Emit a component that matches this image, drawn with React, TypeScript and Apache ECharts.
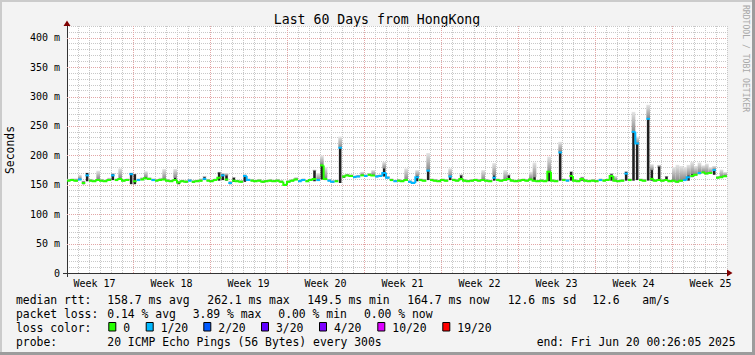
import React, { useEffect, useRef } from "react";
import * as echarts from "echarts";

// ---------- data ----------
const TITLE = "Last 60 Days from HongKong";
const Y_UNIT = "Seconds";
const WATERMARK = "RRDTOOL / TOBI OETIKER";
const TOTAL_DAYS = 60;
const STEP_DAYS = 1 / 3;
const weekLabels = ["Week 17", "Week 18", "Week 19", "Week 20", "Week 21", "Week 22", "Week 23", "Week 24", "Week 25"];
const weekLabelDays = [2.5, 9.5, 16.5, 23.5, 30.5, 37.5, 44.5, 51.5, 58.5];
const majorYValues = [50, 100, 150, 200, 250, 300, 350, 400];

// median rtt (ms) per 8h step
const medianRtt = [
  157, 158, 157, 159, 153, 166, 157, 156, 158, 157, 156, 158, 166, 158, 160, 157, 158, 168, 156, 158,
  159, 161, 160, 158, 157, 158, 159, 157, 156, 158, 154, 156, 155, 157, 155, 156, 157, 160, 157, 156,
  158, 162, 166, 159, 153, 157, 156, 155, 165, 158, 157, 156, 157, 155, 156, 157, 156, 157, 155, 149.5,
  155, 157, 159, 156, 158, 156, 158, 160, 158, 183, 160, 157, 155, 156, 213, 164, 166, 165, 163, 164,
  166, 165, 167, 166, 164, 165, 170, 162, 158, 156, 157, 156, 158, 155, 153, 163, 158, 157, 174, 158,
  157, 156, 158, 157, 164, 158, 157, 160, 157, 156, 157, 158, 157, 158, 157, 156, 162, 158, 157, 158,
  160, 157, 156, 157, 158, 157, 159, 157, 156, 157, 156, 172, 157, 156, 205, 158, 157, 165, 157, 156,
  160, 157, 156, 157, 156, 158, 157, 158, 165, 157, 156, 157, 169, 158, 240, 220, 158, 157, 262.1, 160,
  157, 158, 157, 158, 156, 157, 155, 157, 158, 163, 165, 167, 170, 171, 169, 170, 175, 162, 163, 164.7,
];
// lost pings (of 20) per step
const lostPings = [
  0, 0, 0, 1, 0, 1, 0, 0, 0, 0, 0, 0, 1, 0, 0, 0, 0, 1, 0, 1,
  0, 0, 0, 1, 0, 0, 0, 0, 0, 0, 0, 0, 0, 1, 0, 0, 0, 1, 0, 0,
  0, 0, 1, 0, 1, 0, 0, 0, 1, 1, 0, 0, 0, 0, 0, 0, 0, 0, 0, 0,
  0, 0, 0, 1, 1, 0, 0, 0, 1, 0, 0, 1, 1, 0, 1, 0, 0, 0, 1, 1,
  0, 1, 0, 0, 1, 1, 1, 1, 0, 1, 0, 0, 0, 1, 1, 1, 0, 0, 1, 0,
  0, 0, 0, 0, 1, 0, 0, 0, 0, 0, 0, 0, 0, 0, 0, 0, 1, 0, 0, 0,
  0, 0, 0, 0, 0, 0, 0, 0, 0, 0, 0, 0, 0, 0, 1, 0, 1, 0, 0, 0,
  0, 0, 0, 0, 0, 1, 0, 0, 0, 0, 0, 0, 1, 0, 1, 1, 0, 0, 1, 0,
  0, 0, 0, 0, 0, 0, 0, 0, 1, 1, 0, 0, 1, 0, 0, 0, 1, 0, 0, 0,
];
// dark smoke below / above median, light smoke above median (ms)
const darkBelow = [
  1, 1, 1, 1, 2, 10, 1, 1, 1, 1, 1, 1, 8, 1, 1, 1, 1, 17, 5, 1,
  1, 1, 1, 1, 1, 1, 1, 1, 1, 1, 3, 1, 1, 1, 1, 1, 1, 2, 1, 1,
  1, 5, 8, 2, 2, 2, 1, 1, 10, 1, 1, 1, 1, 1, 1, 1, 1, 1, 1, 1,
  1, 1, 1, 1, 1, 1, 1, 4, 1, 24, 2, 1, 1, 1, 60, 2, 1, 1, 1, 1,
  1, 1, 1, 1, 1, 1, 6, 1, 1, 1, 1, 1, 1, 1, 1, 7, 1, 1, 16, 1,
  1, 1, 1, 1, 6, 1, 1, 2, 1, 1, 1, 1, 1, 1, 1, 1, 5, 1, 1, 1,
  2, 1, 1, 1, 1, 1, 1, 1, 1, 1, 1, 16, 1, 1, 48, 1, 1, 8, 1, 1,
  3, 1, 1, 1, 1, 1, 1, 1, 8, 1, 1, 1, 12, 1, 83, 62, 1, 1, 105, 3,
  1, 1, 1, 1, 1, 1, 1, 1, 1, 6, 2, 1, 2, 1, 1, 1, 8, 1, 1, 1,
];
const darkAbove = [
  1, 1, 1, 1, 2, 4, 1, 1, 2, 1, 1, 1, 2, 1, 2, 1, 1, 2, 12, 1,
  1, 2, 1, 1, 1, 1, 1, 1, 1, 4, 1, 1, 1, 1, 1, 1, 1, 3, 1, 1,
  1, 9, 2, 7, 2, 5, 1, 1, 1, 1, 1, 1, 1, 1, 1, 1, 1, 1, 1, 1,
  1, 1, 1, 1, 1, 1, 1, 14, 1, 1, 2, 1, 1, 1, 0, 1, 1, 1, 1, 1,
  1, 1, 1, 1, 1, 1, 8, 1, 1, 1, 1, 1, 1, 1, 1, 2, 1, 1, 1, 1,
  1, 1, 1, 1, 1, 1, 1, 6, 1, 1, 1, 1, 1, 1, 1, 1, 4, 1, 1, 1,
  6, 1, 1, 1, 1, 1, 1, 6, 1, 1, 1, 0, 1, 1, 1, 1, 1, 7, 1, 1,
  2, 1, 1, 1, 1, 1, 1, 1, 3, 1, 1, 1, 3, 1, 0, 0, 1, 1, 1, 15,
  1, 23, 1, 6, 1, 1, 1, 1, 1, 3, 3, 1, 1, 1, 1, 1, 1, 1, 1, 1,
];
const smokeAbove = [
  3, 3, 4, 8, 4, 5, 3, 3, 16, 3, 3, 4, 4, 3, 18, 3, 3, 3, 13, 3,
  4, 12, 3, 3, 3, 4, 18, 3, 3, 19, 3, 3, 3, 3, 3, 3, 4, 5, 3, 3,
  3, 10, 4, 11, 3, 6, 3, 3, 3, 3, 3, 3, 3, 3, 3, 3, 3, 3, 3, 3,
  3, 3, 4, 3, 3, 3, 3, 16, 12, 17, 20, 3, 3, 3, 19, 3, 3, 3, 3, 3,
  6, 3, 3, 9, 3, 3, 19, 3, 3, 3, 3, 3, 20, 3, 3, 12, 3, 3, 30, 3,
  3, 3, 3, 3, 14, 3, 3, 8, 3, 3, 3, 3, 3, 17, 3, 3, 25, 3, 3, 17,
  8, 3, 3, 3, 3, 3, 13, 31, 3, 3, 3, 26, 3, 3, 18, 3, 3, 8, 3, 3,
  4, 3, 3, 3, 3, 3, 3, 3, 5, 8, 3, 3, 4, 3, 34, 12, 3, 3, 24, 25,
  3, 26, 3, 7, 3, 23, 29, 25, 22, 21, 24, 15, 18, 12, 17, 10, 7, 3, 13, 7,
];

const lossThresholds = [0, 1, 2, 3, 4, 10, 19];
const lossColors = ["#26ff00", "#00b8ff", "#0059ff", "#5e00ff", "#7e00ff", "#dd00ff", "#ff0000"];
const lossLabels = ["0", "1/20", "2/20", "3/20", "4/20", "10/20", "19/20"];

const rttStats = ["158.7 ms avg", "262.1 ms max", "149.5 ms min", "164.7 ms now", "12.6 ms sd", "12.6", "am/s"];
const lossStats = ["0.14 % avg", "3.89 % max", "0.00 % min", "0.00 % now"];
const probeText = "20 ICMP Echo Pings (56 Bytes) every 300s";
const endText = "end: Fri Jun 20 00:26:05 2025";

// ---------- layout / style ----------
const MONO = '"DejaVu Sans Mono", monospace';
const GRID_L = 67, GRID_T = 26, GRID_W = 660, GRID_H = 247;
const MINOR = "#c8c8c8";
const MAJOR = "#e2a6a6";
const NONE = "rgba(0,0,0,0)";

function lossColorIndex(l: number) {
  let c = 0;
  for (let k = 0; k < lossThresholds.length; k++) if (l >= lossThresholds[k]) c = k;
  return c;
}

const rows = medianRtt.map((m, i) => [
  i * STEP_DAYS,
  m,
  lostPings[i],
  m - darkBelow[i],
  m + darkAbove[i],
  m + smokeAbove[i],
  i > 0 ? medianRtt[i - 1] : m,
  i > 0 ? lostPings[i - 1] : lostPings[i],
]);

const xGridColors: string[] = [];
for (let k = 0; k < 14; k++) xGridColors.push(k % 2 === 1 ? NONE : k === 12 ? MAJOR : MINOR);

function buildOption() {
  const legendRowY = [299.5, 313.5, 327.5, 341.5];
  const legendFont = { fontFamily: MONO, fontSize: 11.4, fill: "#000" };
  const g: any[] = [];
  const txt = (text: string, x: number, y: number) =>
    g.push({ type: "text", x, y, silent: true, style: { text, ...legendFont, verticalAlign: "middle", align: "left" } });

  // frame shading
  g.push({ type: "rect", shape: { x: 0, y: 0, width: 755, height: 2 }, style: { fill: "#cbcbcb" } });
  g.push({ type: "rect", shape: { x: 0, y: 0, width: 2, height: 355 }, style: { fill: "#cbcbcb" } });
  g.push({ type: "rect", shape: { x: 0, y: 352, width: 755, height: 3 }, style: { fill: "#9c9c9c" } });
  g.push({ type: "rect", shape: { x: 752, y: 0, width: 3, height: 355 }, style: { fill: "#9c9c9c" } });

  // title
  g.push({ type: "text", x: 377, y: 19.5, style: { text: TITLE, fontFamily: MONO, fontSize: 13.2, fill: "#000", align: "center", verticalAlign: "middle" } });
  // unit
  g.push({ type: "text", x: 10, y: 150, rotation: Math.PI / 2, style: { text: Y_UNIT, fontFamily: MONO, fontSize: 11.4, fill: "#000", align: "center", verticalAlign: "middle" } });
  // watermark
  g.push({ type: "text", x: 745.5, y: 5, rotation: -Math.PI / 2, style: { text: WATERMARK, fontFamily: MONO, fontSize: 8.1, fill: "#a8a8a8", align: "left", verticalAlign: "middle" } });

  // axis arrows and stubs
  g.push({ type: "polygon", shape: { points: [[63.5, 26], [70.5, 26], [67, 20.5]] }, style: { fill: "#7f0000" }, z: 10 });
  g.push({ type: "polygon", shape: { points: [[727, 269.5], [727, 276.5], [732.5, 273]] }, style: { fill: "#7f0000" }, z: 10 });
  g.push({ type: "line", shape: { x1: 67.5, y1: 273, x2: 67.5, y2: 277 }, style: { stroke: "#333", lineWidth: 1 } });
  g.push({ type: "line", shape: { x1: 63, y1: 273.5, x2: 67, y2: 273.5 }, style: { stroke: "#333", lineWidth: 1 } });

  // legend rows
  txt("median rtt:", 16, legendRowY[0]);
  const rttX = [107.3, 207.3, 307.3, 407.3, 507.7, 592.3, 642.3];
  rttStats.forEach((s, k) => txt(s, rttX[k], legendRowY[0]));
  txt("packet loss:", 16, legendRowY[1]);
  const lossX = [107.3, 192.7, 278.3, 364];
  lossStats.forEach((s, k) => txt(s, lossX[k], legendRowY[1]));
  txt("loss color:", 16, legendRowY[2]);
  const boxX = [108.3, 145.7, 203.3, 261, 319, 377.3, 442.3];
  lossLabels.forEach((s, k) => {
    g.push({ type: "rect", shape: { x: boxX[k] + 0.5, y: 322.5, width: 7, height: 8.5 }, style: { fill: lossColors[k], stroke: "#000", lineWidth: 1 } });
    txt(s, boxX[k] + 15, legendRowY[2]);
  });
  txt("probe:", 16, legendRowY[3]);
  txt(probeText, 107.3, legendRowY[3]);
  txt(endText, 536.7, legendRowY[3]);

  const smokeGradient = new echarts.graphic.LinearGradient(0, 0, 0, 1, [
    { offset: 0, color: "#e6e6e6" },
    { offset: 1, color: "#8a8a8a" },
  ]);

  return {
    animation: false,
    backgroundColor: "#f3f3f3",
    grid: { left: GRID_L, top: GRID_T, width: GRID_W, height: GRID_H, show: true, backgroundColor: "#ffffff", borderWidth: 0 },
    xAxis: {
      type: "value",
      min: 0,
      max: TOTAL_DAYS,
      interval: 0.5,
      axisLine: { show: true, lineStyle: { color: "#333", width: 1 } },
      axisTick: { show: false },
      axisLabel: {
        show: true,
        margin: 5,
        fontFamily: MONO,
        fontSize: 10,
        color: "#000",
        formatter: (v: number) => {
          const k = weekLabelDays.findIndex((d) => Math.abs(d - v) < 1e-6);
          return k >= 0 ? weekLabels[k] : "";
        },
      },
      splitLine: { show: true, lineStyle: { color: xGridColors, width: 1, type: [1, 1] } },
    },
    yAxis: {
      type: "value",
      min: 0,
      max: 420,
      interval: 10,
      axisLine: { show: true, lineStyle: { color: "#333", width: 1 } },
      axisTick: { show: false },
      axisLabel: {
        margin: 7,
        fontFamily: MONO,
        fontSize: 10,
        color: "#000",
        formatter: (v: number) => {
          const r = Math.round(v);
          if (r % 50 !== 0) return "";
          return r === 0 ? "0" : `${r} m`;
        },
      },
      splitLine: { show: true, lineStyle: { color: [NONE, MINOR, MINOR, MINOR, MINOR], width: 1, type: [1, 1] } },
    },
    series: [
      {
        type: "custom",
        name: "major-grid",
        coordinateSystem: "cartesian2d",
        silent: true,
        clip: true,
        z: 1,
        data: majorYValues.map((v) => [0, v]),
        encode: { x: 0, y: 1 },
        renderItem: (params: any, api: any) => {
          const a = api.coord([0, api.value(1)]);
          const b = api.coord([TOTAL_DAYS, api.value(1)]);
          const y = Math.round(a[1]) + 0.5;
          return { type: "line", shape: { x1: a[0], y1: y, x2: b[0], y2: y }, style: { stroke: MAJOR, lineWidth: 1, lineDash: [1, 1] } };
        },
      },
      {
        type: "custom",
        name: "smoke",
        coordinateSystem: "cartesian2d",
        silent: true,
        clip: true,
        z: 2,
        data: rows,
        encode: { x: 0, y: 1 },
        renderItem: (params: any, api: any) => {
          const x0 = api.value(0);
          const lo = api.value(3), dt = api.value(4), hi = api.value(5);
          const pLo = api.coord([x0, lo]);
          const pDt = api.coord([x0, dt]);
          const pHi = api.coord([x0 + STEP_DAYS, hi]);
          const w = pHi[0] - pLo[0];
          const children: any[] = [];
          if (pDt[1] - pHi[1] > 0.3)
            children.push({ type: "rect", shape: { x: pLo[0], y: pHi[1], width: w, height: pDt[1] - pHi[1] }, style: { fill: smokeGradient } });
          if (pLo[1] - pDt[1] > 0.3)
            children.push({ type: "rect", shape: { x: pLo[0] + w * 0.15, y: pDt[1], width: w * 0.7, height: pLo[1] - pDt[1] }, style: { fill: "#202020" } });
          return { type: "group", children };
        },
      },
      {
        type: "custom",
        name: "median",
        coordinateSystem: "cartesian2d",
        silent: true,
        clip: true,
        z: 3,
        data: rows,
        encode: { x: 0, y: 1 },
        renderItem: (params: any, api: any) => {
          const x0 = api.value(0);
          const m = api.value(1);
          const prev = api.value(6);
          const ci = lossColorIndex(api.value(2));
          const pci = lossColorIndex(api.value(7));
          const a = api.coord([x0, prev]);
          const b = api.coord([x0, m]);
          const c = api.coord([x0 + STEP_DAYS, m]);
          const pts = ci === pci ? [a, b, c] : [b, c];
          return {
            type: "polyline",
            shape: { points: pts },
            style: { stroke: lossColors[ci], lineWidth: 2, fill: "none" },
          };
        },
      },
    ],
    graphic: g,
  };
}

export default function App() {
  const ref = useRef<HTMLDivElement>(null);
  useEffect(() => {
    if (!ref.current) return;
    const chart = echarts.init(ref.current, null, { renderer: "svg" });
    chart.setOption(buildOption() as any);
    return () => chart.dispose();
  }, []);
  return <div ref={ref} style={{ position: "fixed", left: 0, top: 0, width: 755, height: 355 }} />;
}
